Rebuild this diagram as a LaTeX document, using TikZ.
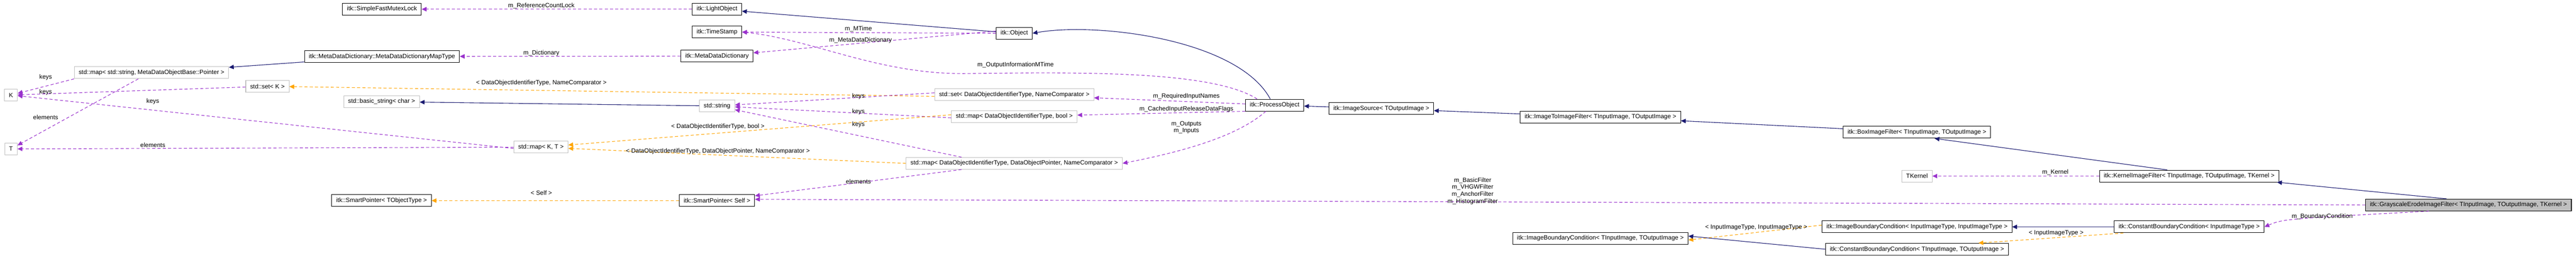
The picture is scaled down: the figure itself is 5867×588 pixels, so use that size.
\documentclass[tikz,border=0pt]{standalone}
\usepackage{fontspec}
\setmainfont{Liberation Sans}
\usepackage{tikz}
\usetikzlibrary{arrows.meta,positioning}
\definecolor{inhcol}{HTML}{191970}
\definecolor{usecol}{HTML}{9A32CD}
\definecolor{tplcol}{HTML}{FFA500}
\definecolor{extcol}{HTML}{BFBFBF}
\tikzset{
    classbox/.style={draw=black, line width=1.2pt, fill=white, minimum height=27pt, inner xsep=10pt, font=\fontsize{14}{16}\selectfont},
    extbox/.style={classbox, draw=extcol},
    selfbox/.style={classbox, fill=extcol},
    inherit/.style={draw=inhcol, line width=1.3pt, -{Triangle[length=11pt,width=10pt]}},
    usage/.style={draw=usecol, line width=1.3pt, dash pattern=on 7pt off 5pt, -{Triangle[length=11pt,width=10pt]}},
    templ/.style={draw=tplcol, line width=1.3pt, dash pattern=on 7pt off 5pt, -{Triangle[length=11pt,width=10pt]}},
    lbl/.style={font=\fontsize{14}{16}\selectfont, align=center, inner sep=1pt},
}
\begin{document}
\begin{tikzpicture}[x=1pt, y=-1pt]
	\useasboundingbox (0,0) rectangle (5867,588);
	% classes
	\node[classbox] (mutex) at (870,21) {itk::SimpleFastMutexLock};
	\node[classbox] (maptype) at (870,129) {itk::MetaDataDictionary::MetaDataDictionaryMapType};
	\node[extbox] (mapstr) at (345,166) {std::map< std::string, MetaDataObjectBase::Pointer >};
	\node[extbox] (setk) at (609,197) {std::set< K >};
	\node[extbox] (K) at (25,217) {K};
	\node[extbox] (T) at (25,340) {T};
	\node[extbox] (basicstr) at (869,232) {std::basic\_string< char >};
	\node[classbox] (sptype) at (869,458) {itk::SmartPointer< TObjectType >};
	\node[classbox] (light) at (1633,21) {itk::LightObject};
	\node[classbox] (stamp) at (1633,73) {itk::TimeStamp};
	\node[classbox] (dict) at (1633,128) {itk::MetaDataDictionary};
	\node[extbox] (string) at (1633,242) {std::string};
	\node[extbox] (mapkt) at (1232,336) {std::map< K, T >};
	\node[classbox] (spself) at (1633,458) {itk::SmartPointer< Self >};
	\node[classbox] (object) at (2310,76) {itk::Object};
	\node[extbox] (setid) at (2310,216) {std::set< DataObjectIdentifierType, NameComparator >};
	\node[extbox] (mapbool) at (2310,266) {std::map< DataObjectIdentifierType, bool >};
	\node[extbox] (mapptr) at (2310,373) {std::map< DataObjectIdentifierType, DataObjectPointer, NameComparator >};
	\node[classbox] (process) at (2903,240) {itk::ProcessObject};
	\node[classbox] (source) at (3146,248) {itk::ImageSource< TOutputImage >};
	\node[classbox] (imgfilter) at (3645,267) {itk::ImageToImageFilter< TInputImage, TOutputImage >};
	\node[classbox] (ibcio) at (3645,544) {itk::ImageBoundaryCondition< TInputImage, TOutputImage >};
	\node[classbox] (box) at (4366,302) {itk::BoxImageFilter< TInputImage, TOutputImage >};
	\node[extbox] (tkernel) at (4366,402) {TKernel};
	\node[classbox] (kernel) at (4986,402) {itk::KernelImageFilter< TInputImage, TOutputImage, TKernel >};
	\node[classbox] (ibcii) at (4366,518) {itk::ImageBoundaryCondition< InputImageType, InputImageType >};
	\node[classbox] (cbcio) at (4366,569) {itk::ConstantBoundaryCondition< TInputImage, TOutputImage >};
	\node[classbox] (cbci) at (4986,518) {itk::ConstantBoundaryCondition< InputImageType >};
	\node[selfbox] (erode) at (5622,468) {itk::GrayscaleErodeImageFilter< TInputImage, TOutputImage, TKernel >};
	% connectors
	\draw[usage] (light) -- (mutex);
	\node[lbl] at (1233,13) {m\_ReferenceCountLock};
	\draw[inherit] (object) -- (light);
	\draw[usage] (object.west) -- (stamp);
	\node[lbl] at (1955,66) {m\_MTime};
	\draw[usage] ([yshift=5pt]object.west) -- (dict);
	\node[lbl] at (1960,92) {m\_MetaDataDictionary};
	\draw[usage] (dict) -- (maptype);
	\node[lbl] at (1233,121) {m\_Dictionary};
	\draw[inherit] (maptype) -- (mapstr);
	\draw[usage] (mapstr.south west) -- (K);
	\node[lbl] at (104,176) {keys};
	\draw[usage] ([xshift=-30pt]mapstr.south) -- (T);
	\node[lbl] at (104,268) {elements};
	\draw[usage] (setk) -- (K);
	\node[lbl] at (104,211) {keys};
	\draw[usage] ([yshift=-3pt]mapkt.west) -- (K);
	\node[lbl] at (348,232) {keys};
	\draw[usage] (mapkt.west) -- (T);
	\node[lbl] at (348,331) {elements};
	\draw[templ] ([yshift=-4pt]setid.west) -- (setk);
	\node[lbl] at (1233,189) {< DataObjectIdentifierType, NameComparator >};
	\draw[inherit] (string) -- (basicstr);
	\draw[usage] ([yshift=4pt]setid.west) -- (string);
	\node[lbl] at (1955,220) {keys};
	\draw[usage] ([yshift=-3pt]mapbool.west) -- (string);
	\node[lbl] at (1955,255) {keys};
	\draw[templ] ([yshift=4pt]mapbool.west) -- (mapkt);
	\node[lbl] at (1635,289) {< DataObjectIdentifierType, bool >};
	\draw[usage] ([xshift=-120pt]mapptr.north) -- (string);
	\node[lbl] at (1955,285) {keys};
	\draw[templ] (mapptr.west) -- (mapkt);
	\node[lbl] at (1635,345) {< DataObjectIdentifierType, DataObjectPointer, NameComparator >};
	\draw[usage] ([xshift=-120pt]mapptr.south) -- (spself);
	\node[lbl] at (1955,415) {elements};
	\draw[templ] (spself) -- (sptype);
	\node[lbl] at (1233,440) {< Self >};
	\draw[inherit] ([xshift=-10pt]process.north) .. controls (2820,90) and (2500,50) .. (object.east);
	\draw[usage] ([xshift=-40pt]process.north) .. controls (2760,160) and (2450,165) .. (2200,168) .. controls (2000,170) and (1850,90) .. (stamp.east);
	\node[lbl] at (2313,148) {m\_OutputInformationMTime};
	\draw[usage] (process) -- (setid);
	\node[lbl] at (2702,220) {m\_RequiredInputNames};
	\draw[usage] (process.south west) -- (mapbool);
	\node[lbl] at (2702,249) {m\_CachedInputReleaseDataFlags};
	\draw[usage] ([xshift=-20pt]process.south) .. controls (2820,310) and (2700,345) .. (mapptr.east);
	\node[lbl] at (2702,291) {m\_Outputs\\m\_Inputs};
	\draw[inherit] (source) -- (process);
	\draw[inherit] (imgfilter) -- (source);
	\draw[inherit] (box) -- (imgfilter);
	\draw[inherit] ([xshift=-50pt]kernel.north) -- ([xshift=40pt]box.south);
	\draw[usage] (kernel) -- (tkernel);
	\node[lbl] at (4681,394) {m\_Kernel};
	\draw[inherit] ([xshift=-50pt]erode.north) -- ([xshift=-5pt]kernel.south east);
	\draw[usage] (erode.west) -- ([yshift=3pt]spself.east);
	\node[lbl] at (3354,436) {m\_BasicFilter\\m\_VHGWFilter\\m\_AnchorFilter\\m\_HistogramFilter};
	\draw[usage] ([xshift=-90pt]erode.south) .. controls (5200,500) .. (cbci.east);
	\node[lbl] at (5289,495) {m\_BoundaryCondition};
	\draw[inherit] (cbci) -- (ibcii);
	\draw[templ] ([xshift=-150pt]cbci.south) -- ([xshift=140pt]cbcio.north);
	\node[lbl] at (4683,532) {< InputImageType >};
	\draw[templ] ([yshift=4pt]ibcii.west) -- ([yshift=-4pt]ibcio.east);
	\node[lbl] at (4000,519) {< InputImageType, InputImageType >};
	\draw[inherit] (cbcio.west) -- ([yshift=5pt]ibcio.east);
\end{tikzpicture}
\end{document}
